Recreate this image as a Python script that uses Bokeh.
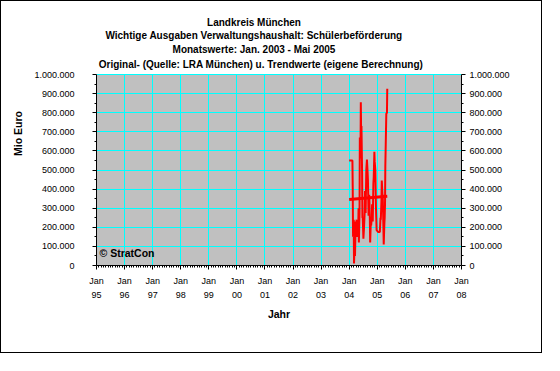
from bokeh.plotting import figure
from bokeh.models import Range1d, LinearAxis, FixedTicker, CustomJSTickFormatter, Label, BoxAnnotation
from bokeh.embed import file_html
from bokeh.resources import INLINE

title_lines = [
    "Landkreis München",
    "Wichtige Ausgaben Verwaltungshaushalt: Schülerbeförderung",
    "Monatswerte: Jan. 2003 - Mai 2005",
    "Original- (Quelle: LRA München) u. Trendwerte (eigene Berechnung)",
]
x_title = "Jahr"
y_title = "Mio Euro"
credit = "© StratCon"

year_ticks = list(range(1995, 2009))
value_ticks = list(range(0, 1000001, 100000))

orig_x = [2004.000, 2004.115, 2004.126, 2004.138, 2004.161, 2004.172, 2004.195, 2004.207,
          2004.230, 2004.241, 2004.264, 2004.276, 2004.299, 2004.322, 2004.333, 2004.345,
          2004.368, 2004.379, 2004.402, 2004.414, 2004.425, 2004.437, 2004.460, 2004.471,
          2004.483, 2004.506, 2004.529, 2004.552, 2004.563, 2004.586, 2004.609, 2004.632,
          2004.655, 2004.667, 2004.690, 2004.713, 2004.736, 2004.747, 2004.770, 2004.782,
          2004.805, 2004.816, 2004.839, 2004.862, 2004.874, 2004.897, 2004.908, 2004.931,
          2004.954, 2004.977, 2005.034, 2005.092, 2005.115, 2005.126, 2005.149, 2005.161,
          2005.184, 2005.195, 2005.230, 2005.253, 2005.264, 2005.276, 2005.287, 2005.310,
          2005.322, 2005.345, 2005.356]
orig_y = [550000, 550000, 410000, 150000, 240000, 10000, 120000, 50000,
          230000, 185000, 240000, 150000, 200000, 190000, 300000, 120000,
          280000, 670000, 560000, 855000, 700000, 730000, 480000, 250000,
          250000, 140000, 200000, 280000, 390000, 275000, 500000, 555000,
          490000, 450000, 260000, 370000, 240000, 120000, 230000, 210000,
          250000, 320000, 230000, 430000, 460000, 595000, 545000, 500000,
          300000, 185000, 175000, 175000, 250000, 240000, 340000, 445000,
          370000, 370000, 110000, 220000, 250000, 320000, 520000, 700000,
          795000, 800000, 925000]

trend_x = [2004.0, 2005.356]
trend_y = [346000, 362000]

FONT = "Liberation Sans"

# layout (pixels inside the figure)
W, H = 542, 353
P_LEFT, P_RIGHT, P_TOP, P_BOTTOM = 95, 460, 73, 264   # grey plot area
X0, X1 = 1995, 2008
Y0, Y1 = 0, 1000000
px_per_val = (P_BOTTOM - P_TOP) / (Y1 - Y0)
px_per_year = (P_RIGHT - P_LEFT) / (X1 - X0)
y_end = P_BOTTOM / px_per_val          # frame reaches the top so the titles fit

def data_x(px):
    return X0 + (px - P_LEFT) / px_per_year

def data_y(py):
    return (P_BOTTOM - py) / px_per_val

p = figure(width=W, height=H, output_backend="svg", toolbar_location=None,
           x_range=Range1d(X0, X1), y_range=Range1d(0, y_end),
           min_border_left=P_LEFT, min_border_right=W - P_RIGHT, min_border_top=0,
           min_border_bottom=H - P_BOTTOM,
           background_fill_color="white", border_fill_color="white",
           outline_line_color=None)

# plot area
p.add_layout(BoxAnnotation(left=X0, right=X1, bottom=Y0, top=Y1, fill_color="#C0C0C0",
                           fill_alpha=1, line_color="#808080", line_width=1, level="image"))

p.xgrid.grid_line_color = "#00FFFF"
p.ygrid.grid_line_color = "#00FFFF"
p.xgrid.grid_line_width = 1
p.ygrid.grid_line_width = 1
p.xgrid.cross_bounds = (Y0, Y1)
p.ygrid.cross_bounds = (X0, X1)

minor_x = [y + m / 12 for y in range(X0, X1) for m in range(1, 12)]
minor_y = [v + 50000 for v in value_ticks[:-1]]

xfmt = CustomJSTickFormatter(code="return 'Jan\\n' + String(Math.round(tick) % 100).padStart(2, '0');")
yfmt = CustomJSTickFormatter(code="return Math.round(tick).toFixed(0).replace(/\\B(?=(\\d{3})+(?!\\d))/g, '.');")

p.xaxis.ticker = FixedTicker(ticks=year_ticks, minor_ticks=minor_x)
p.xaxis.formatter = xfmt
p.xaxis.axis_label = x_title
p.yaxis.ticker = FixedTicker(ticks=value_ticks, minor_ticks=minor_y)
p.yaxis.formatter = yfmt
p.yaxis.axis_label = y_title
p.yaxis.bounds = (Y0, Y1)

right = LinearAxis(ticker=FixedTicker(ticks=value_ticks, minor_ticks=minor_y), formatter=yfmt,
                   bounds=(Y0, Y1))
p.add_layout(right, "right")

for ax in p.axis:
    ax.axis_line_color = "black"
    ax.major_tick_line_color = "black"
    ax.minor_tick_line_color = "black"
    ax.major_tick_out = 4
    ax.major_tick_in = 0
    ax.minor_tick_out = 2
    ax.minor_tick_in = 0
    ax.major_label_text_font = FONT
    ax.major_label_text_font_size = "9px"
    ax.major_label_text_color = "black"
    ax.axis_label_text_font = FONT
    ax.axis_label_text_font_size = "10.5px"
    ax.axis_label_text_font_style = "bold"
    ax.axis_label_text_color = "black"

p.xaxis.major_label_standoff = 6
p.xaxis.major_label_text_line_height = 1.4
p.xaxis.axis_label_standoff = 5
p.yaxis.major_label_standoff = 18
p.yaxis.axis_label_standoff = 7
right.major_label_standoff = 4

p.line(orig_x, orig_y, line_color="#FF0000", line_width=2)
p.line(trend_x, trend_y, line_color="#FF0000", line_width=3)

title_cx = [252.5, 252.5, 252.5, 259.5]
title_cy = [20.5, 34.0, 48.3, 62.6]
for t, tx, ty in zip(title_lines, title_cx, title_cy):
    p.add_layout(Label(x=data_x(tx), y=data_y(ty), text=t,
                       text_align="center", text_baseline="middle",
                       text_font=FONT, text_font_style="bold", text_font_size="10px",
                       text_color="black"))

p.add_layout(Label(x=data_x(98), y=data_y(251), text=credit, text_align="left",
                   text_baseline="middle", text_font=FONT, text_font_style="bold",
                   text_font_size="10.5px", text_color="black"))

p.styles = {"border": "1px solid black"}

open("out.html", "w").write(file_html(p, INLINE))
